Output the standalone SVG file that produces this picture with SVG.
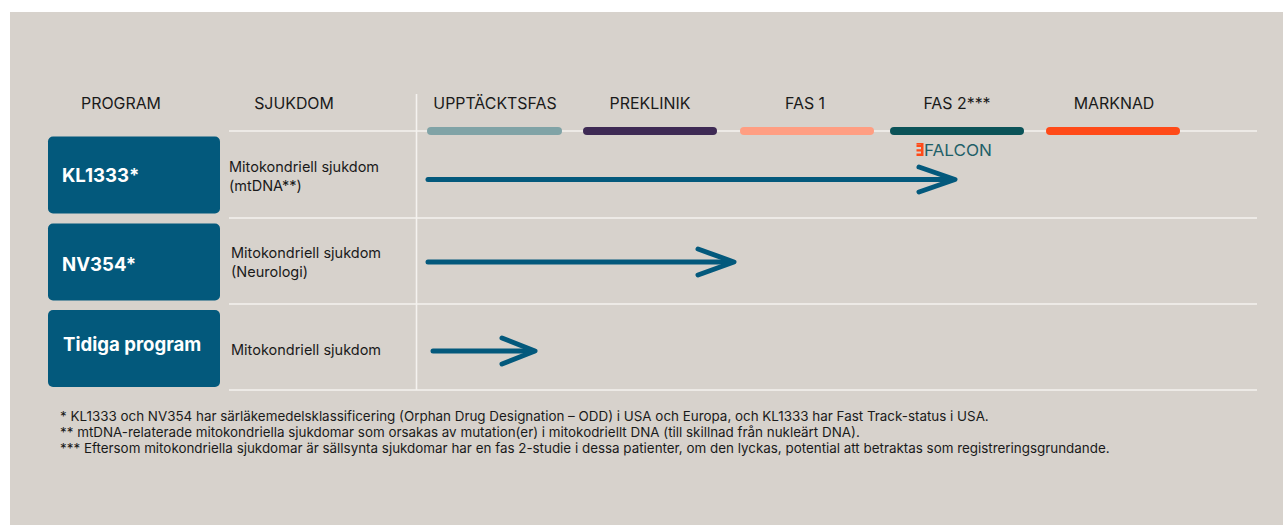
<svg xmlns="http://www.w3.org/2000/svg" width="1283" height="525" viewBox="0 0 1283 525">
<style>
.hdr{font-family:Inter,"Liberation Sans",sans-serif;font-size:15.9px;fill:#1a1a1a}
.prog{font-family:Inter,"Liberation Sans",sans-serif;font-size:18.6px;font-weight:700;fill:#ffffff}
.dis{font-family:Inter,"Liberation Sans",sans-serif;font-size:14.5px;fill:#1a1a1a}
.note{font-family:Inter,"Liberation Sans",sans-serif;font-size:13.4px;fill:#1a1a1a}
.box{fill:#03597c}
.grid{stroke:#f4f2ef;stroke-width:1.6;fill:none}
.bar{stroke-width:8;stroke-linecap:round;fill:none}
.arrow{stroke:#03597c;stroke-width:5;stroke-linecap:round;stroke-linejoin:round;fill:none}
</style>
<rect x="0" y="0" width="1283" height="525" fill="#ffffff"/>
<rect x="10" y="12" width="1273" height="513" fill="#d7d2cc"/>
<g id="grid">
<line class="grid" x1="229" y1="131" x2="1257" y2="131"/>
<line class="grid" x1="229" y1="218" x2="1257" y2="218"/>
<line class="grid" x1="229" y1="304" x2="1257" y2="304"/>
<line class="grid" x1="229" y1="390" x2="1257" y2="390"/>
<line class="grid" x1="416.5" y1="94" x2="416.5" y2="390"/>
</g>
<g id="headers">
<text class="hdr" x="121" y="109" text-anchor="middle">PROGRAM</text>
<text class="hdr" x="294" y="109" text-anchor="middle">SJUKDOM</text>
<text class="hdr" x="495" y="109" text-anchor="middle">UPPTÄCKTSFAS</text>
<text class="hdr" x="650" y="109" text-anchor="middle">PREKLINIK</text>
<text class="hdr" x="805" y="109" text-anchor="middle">FAS 1</text>
<text class="hdr" x="957" y="109" text-anchor="middle">FAS 2***</text>
<text class="hdr" x="1114" y="109" text-anchor="middle">MARKNAD</text>
</g>
<g id="phase-bars">
<line class="bar" x1="431" y1="131" x2="558" y2="131" stroke="#80a3a6"/>
<line class="bar" x1="587" y1="131" x2="713" y2="131" stroke="#3e2a54"/>
<line class="bar" x1="744" y1="131" x2="870" y2="131" stroke="#ff9e82"/>
<line class="bar" x1="894" y1="131" x2="1020" y2="131" stroke="#0b5358"/>
<line class="bar" x1="1050" y1="131" x2="1176" y2="131" stroke="#ff4a18"/>
</g>
<g id="falcon">
<path d="M916.5 143h7v13h-7v-2.4h4.5v-2.2h-4.5v-2.2h4.5v-2.2h-4.5v-2.2h4.5v-0.4h-4.5z" fill="#ff4a18"/>
<text x="924" y="155.5" font-family="Inter,'Liberation Sans',sans-serif" font-size="16" fill="#1e6068" textLength="68" lengthAdjust="spacingAndGlyphs">FALCON</text>
</g>
<g id="node-kl1333">
<rect class="box" x="48" y="136.5" width="172" height="77" rx="5"/>
<text class="prog" x="62" y="182">KL1333*</text>
<text class="dis" x="229" y="172">Mitokondriell sjukdom</text>
<text class="dis" x="229" y="191">(mtDNA**)</text>
</g>
<g id="node-nv354">
<rect class="box" x="48" y="223.5" width="172" height="77" rx="5"/>
<text class="prog" x="62" y="271">NV354*</text>
<text class="dis" x="231" y="258">Mitokondriell sjukdom</text>
<text class="dis" x="231" y="277">(Neurologi)</text>
</g>
<g id="node-tidiga">
<rect class="box" x="48" y="310" width="172" height="77" rx="5"/>
<text class="prog" x="63" y="351">Tidiga program</text>
<text class="dis" x="231" y="355">Mitokondriell sjukdom</text>
</g>
<g id="connectors">
<path class="arrow" d="M428 179.5H946"/>
<path class="arrow" d="M919 167L955 179.5L919 192"/>
<path class="arrow" d="M428 262H726"/>
<path class="arrow" d="M698 249L734 262L698 275"/>
<path class="arrow" d="M433 351H528"/>
<path class="arrow" d="M502 338L535 351L502 364"/>
</g>
<g id="notes">
<text class="note" x="60" y="421">* KL1333 och NV354 har särläkemedelsklassificering (Orphan Drug Designation – ODD) i USA och Europa, och KL1333 har Fast Track-status i USA.</text>
<text class="note" x="60" y="437">** mtDNA-relaterade mitokondriella sjukdomar som orsakas av mutation(er) i mitokodriellt DNA (till skillnad från nukleärt DNA).</text>
<text class="note" x="60" y="453">*** Eftersom mitokondriella sjukdomar är sällsynta sjukdomar har en fas 2-studie i dessa patienter, om den lyckas, potential att betraktas som registreringsgrundande.</text>
</g>
</svg>
